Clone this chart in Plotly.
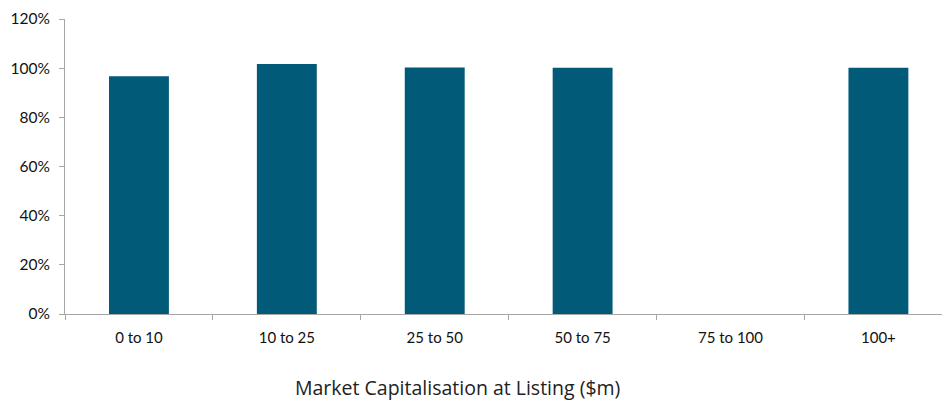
import plotly.graph_objects as go

categories = ["0 to 10", "10 to 25", "25 to 50", "50 to 75", "75 to 100", "100+"]
values = [0.967, 1.017, 1.003, 1.002, None, 1.002]
y_ticks = [0, 0.2, 0.4, 0.6, 0.8, 1.0, 1.2]
y_tick_labels = ["0%", "20%", "40%", "60%", "80%", "100%", "120%"]
x_title = "Market Capitalisation at Listing ($m)"

fig = go.Figure(go.Bar(
    x=categories, y=values, width=0.405,
    marker=dict(color="#015a78", line=dict(width=0)),
))

fig.update_layout(
    width=944, height=403,
    margin=dict(l=65, r=2, t=19, b=89),
    plot_bgcolor="white", paper_bgcolor="white",
    showlegend=False,
    font=dict(family="Lato, Open Sans, sans-serif", size=13, color="#111111"),
)
fig.add_annotation(
    text=x_title, xref="paper", yref="paper", x=0.448, y=-0.25,
    xanchor="center", yanchor="middle", showarrow=False,
    font=dict(size=19.5, family="Open Sans, sans-serif", color="#222222"),
)
fig.update_xaxes(
    type="category", range=[-0.5, 5.43],
    showline=True, linecolor="#a6a6a6", linewidth=1,
    ticks="outside", tickson="boundaries", ticklen=5, tickcolor="#a6a6a6",
    ticklabelstandoff=10,
    showgrid=False, tickfont=dict(size=15, family="Lato, sans-serif"),
)
fig.update_yaxes(
    range=[0, 1.2], tickvals=y_ticks, ticktext=y_tick_labels,
    showline=True, linecolor="#a6a6a6", linewidth=1,
    ticks="outside", ticklen=5, tickcolor="#a6a6a6",
    ticklabelstandoff=6,
    showgrid=False, zeroline=False, tickfont=dict(size=15.5, family="Lato, sans-serif"),
)

fig.write_html("out.html")
